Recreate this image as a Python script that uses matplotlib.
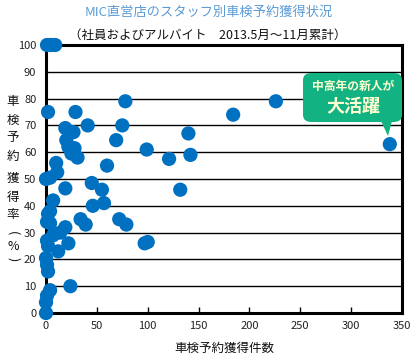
import matplotlib
matplotlib.use("Agg")
import matplotlib.pyplot as plt
from matplotlib.patches import FancyBboxPatch, Polygon

plt.rcParams['font.family'] = ['Noto Sans CJK JP', 'DejaVu Sans']

title = "MIC直営店のスタッフ別車検予約獲得状況"
subtitle = "（社員およびアルバイト　2013.5月～11月累計）"
xlabel = "車検予約獲得件数"
ylabel_chars = ["車", "検", "予", "約", "獲", "得", "率", "(", "%", ")"]
callout_line1 = "中高年の新人が"
callout_line2 = "大活躍"

bookings = [1, 5, 9, 2, 29, 78, 41, 75, 19, 27, 20, 69, 22, 28, 25, 31, 10, 11, 60, 0,
            4, 19, 45, 55, 7, 4, 2, 46, 57, 34, 39, 1, 4, 19, 14, 7, 1, 2, 22, 12,
            0, 1, 2, 4, 24, 1, 0, 0, 72, 79, 97, 100, 99, 121, 140, 142, 132, 184, 226, 338]
rate = [100, 100, 100, 75, 75, 79, 70, 70, 69, 67.5, 64.5, 64.5, 62, 61.5, 59.5, 58, 56, 52.5, 55, 50,
        50.5, 46.5, 48.5, 46, 42, 38, 37, 40, 41, 35, 33, 34, 33.5, 32, 30, 29, 27, 25, 26, 23,
        20.5, 18, 15.5, 8.5, 10, 6.5, 4, 0, 35, 33, 26, 26.5, 61, 57.5, 67, 59, 46, 74, 79, 63]
xticks = [0, 50, 100, 150, 200, 250, 300, 350]
yticks = [0, 10, 20, 30, 40, 50, 60, 70, 80, 90, 100]

W, H = 418, 359
fig = plt.figure(figsize=(W / 100, H / 100), dpi=100)
ax = fig.add_axes([46 / W, 1 - 313 / H, (402 - 46) / W, (313 - 45) / H])

ax.set_xlim(0, 350)
ax.set_ylim(0, 100)
ax.set_xticks(xticks)
ax.set_yticks(yticks)
ax.tick_params(axis='x', direction='in', length=4, width=1, labelsize=8, pad=6, color='black')
ax.tick_params(axis='y', length=0, labelsize=8, pad=7)
for t in ax.get_xticklabels() + ax.get_yticklabels():
    t.set_color('#222222')
ax.grid(axis='y', color='black', linewidth=1)
ax.set_axisbelow(True)
for s in ax.spines.values():
    s.set_linewidth(2.2)
    s.set_color('black')

ax.scatter(bookings, rate, s=105, color='#0070C0', edgecolors='none', zorder=3, clip_on=False)

fig.text(209 / W, 1 - 12 / H, title, ha='center', va='center', fontsize=9.5, color='#5B9BD5')
fig.text(208 / W, 1 - 35 / H, subtitle, ha='center', va='center', fontsize=9, color='#111111')
fig.text(224 / W, 1 - 348 / H, xlabel, ha='center', va='center', fontsize=9, color='#111111')

ys = [102, 120, 138, 156, 178, 197, 215, 233, 246, 259]
for ch, yy in zip(ylabel_chars, ys):
    rot = -90 if ch in ("(", ")") else 0
    fig.text(13 / W, 1 - yy / H, ch, ha='center', va='center', fontsize=9, color='#111111',
             rotation=rot)

# callout
green = '#13B283'
box = FancyBboxPatch((303 / W, 1 - 122 / H), (402 - 303) / W, (122 - 73) / H,
                     boxstyle='round,pad=0,rounding_size=0.02', transform=fig.transFigure,
                     facecolor=green, edgecolor='none', zorder=10)
fig.add_artist(box)
tail = Polygon([(381 / W, 1 - 121 / H), (392 / W, 1 - 121 / H), (388 / W, 1 - 136 / H)],
               closed=True, transform=fig.transFigure, facecolor=green, edgecolor='none', zorder=10)
fig.add_artist(tail)
fig.text(353 / W, 1 - 86 / H, callout_line1, ha='center', va='center', fontsize=8.5,
         color='#FFFFD0', fontweight='bold', zorder=11)
fig.text(353 / W, 1 - 107 / H, callout_line2, ha='center', va='center', fontsize=13,
         color='#FFFFD0', fontweight='bold', zorder=11)

fig.savefig('out.png', dpi=100)
